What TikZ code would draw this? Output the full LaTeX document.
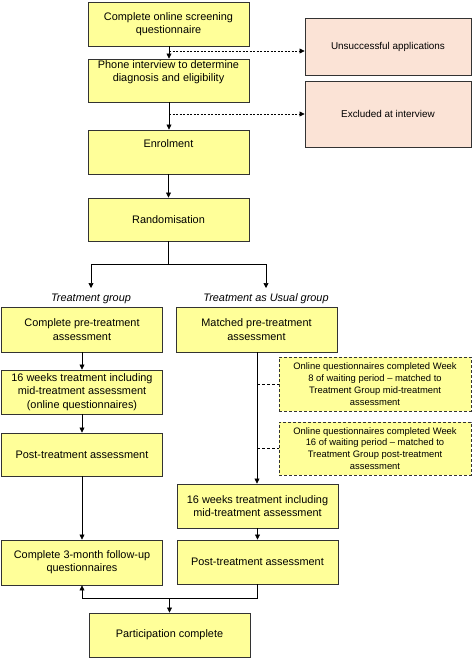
\documentclass[tikz,border=0pt]{standalone}
\usepackage{fontspec}
\setmainfont{Liberation Sans}
\usetikzlibrary{arrows.meta}
\definecolor{boxy}{HTML}{FFFF99}
\definecolor{boxp}{HTML}{FBE3D6}
\definecolor{edge}{HTML}{333333}
\begin{document}
\begin{tikzpicture}[x=1pt,y=-1pt,
  every node/.style={font=\fontsize{10.9}{13.3}\selectfont, align=center, inner sep=0pt},
  ybox/.style={draw=edge, line width=0.9pt, fill=boxy, minimum width=#1, minimum height=44},
  ybox/.default=161,
  pbox/.style={draw=edge, line width=0.9pt, fill=boxp, minimum width=166, font=\fontsize{9.9}{12}\selectfont},
  dbox/.style={draw=edge, line width=0.9pt, fill=boxy, dashed, dash pattern=on 3pt off 2pt, minimum width=192, minimum height=54, font=\fontsize{9.4}{11.8}\selectfont},
  lab/.style={font=\fontsize{10.9}{12}\selectfont\itshape},
  arr/.style={draw=black, line width=0.7pt, -{Triangle[length=5pt,width=5pt]}},
  ln/.style={draw=black, line width=0.7pt},
  darr/.style={draw=black, line width=0.7pt, dash pattern=on 2pt off 1.5pt, -{Triangle[length=5pt,width=5pt]}},
  dln/.style={draw=black, line width=0.7pt, dash pattern=on 3pt off 2pt}]
\useasboundingbox (0,0) rectangle (472,658);

\node[ybox] (screen) at (168.5,24) {Complete online screening\\questionnaire};
\node[ybox, minimum height=43] (phone) at (168.5,80.5) {Phone interview to determine\\diagnosis and eligibility\\[1pt]\strut};
\node[pbox, minimum height=57] (unsucc) at (388,46.5) {Unsuccessful applications};
\node[pbox, minimum height=66] (excl) at (388,114) {Excluded at interview};
\node[ybox] (enrol) at (168.5,152) {Enrolment\\\strut};
\node[ybox, minimum height=43] (rand) at (168.5,219.5) {Randomisation};

\node[lab] (tglab) at (91,299) {Treatment group};
\node[lab] (tauglab) at (266,299) {Treatment as Usual group};

\node[ybox, minimum height=45] (pre) at (82,329.5) {Complete pre-treatment\\assessment};
\node[ybox, minimum height=45] (mpre) at (256.5,329.5) {Matched pre-treatment\\assessment};
\node[ybox] (tw) at (82,392) {16 weeks treatment including\\mid-treatment assessment\\(online questionnaires)};
\node[ybox, minimum height=43] (post) at (82,454.5) {Post-treatment assessment};
\node[ybox, minimum height=45] (follow) at (82,562.5) {Complete 3-month follow-up\\questionnaires};

\node[dbox] (oq8) at (375,384) {Online questionnaires completed Week\\8 of waiting period -- matched to\\Treatment Group mid-treatment\\assessment};
\node[dbox, minimum height=53] (oq16) at (375,448.5) {Online questionnaires completed Week\\16 of waiting period -- matched to\\Treatment Group post-treatment\\assessment};

\node[ybox] (tw2) at (257.5,506) {16 weeks treatment including\\mid-treatment assessment};
\node[ybox] (post2) at (257.5,562) {Post-treatment assessment};
\node[ybox] (part) at (169.5,635) {Participation complete};

\coordinate (c1) at (169,51);
\coordinate (c2) at (169,114);
\coordinate (split) at (168.5,264);
\coordinate (sl) at (91,264);
\coordinate (sr) at (266,264);
\coordinate (j8) at (257,384);
\coordinate (j16) at (257,448.5);
\coordinate (bj) at (169.5,598);
\coordinate (bl) at (82,598);
\coordinate (br) at (257.5,598);

\draw[arr] (screen.south -| c1) -- (phone.north -| c1);
\draw[darr] (c1) -- (unsucc.west |- c1);
\draw[arr] (phone.south -| c2) -- (enrol.north -| c2);
\draw[darr] (c2) -- (excl.west |- c2);
\draw[arr] (enrol) -- (rand);
\draw[ln] (rand.south) -- (split);
\draw[ln] (sl) -- (sr);
\draw[arr] (sl) -- (91,288);
\draw[arr] (sr) -- (266,288);
\draw[arr] (pre) -- (tw);
\draw[arr] (tw) -- (post);
\draw[arr] (post) -- (follow);
\draw[arr] (mpre.south -| j8) -- (tw2.north -| j8);
\draw[dln] (j8) -- (oq8.west);
\draw[dln] (j16) -- (oq16.west);
\draw[arr] (tw2) -- (post2);
\draw[ln] (post2.south) -- (br) -- (bl);
\draw[arr] (bl) -- (follow.south);
\draw[arr] (bj) -- (part.north);
\end{tikzpicture}
\end{document}
